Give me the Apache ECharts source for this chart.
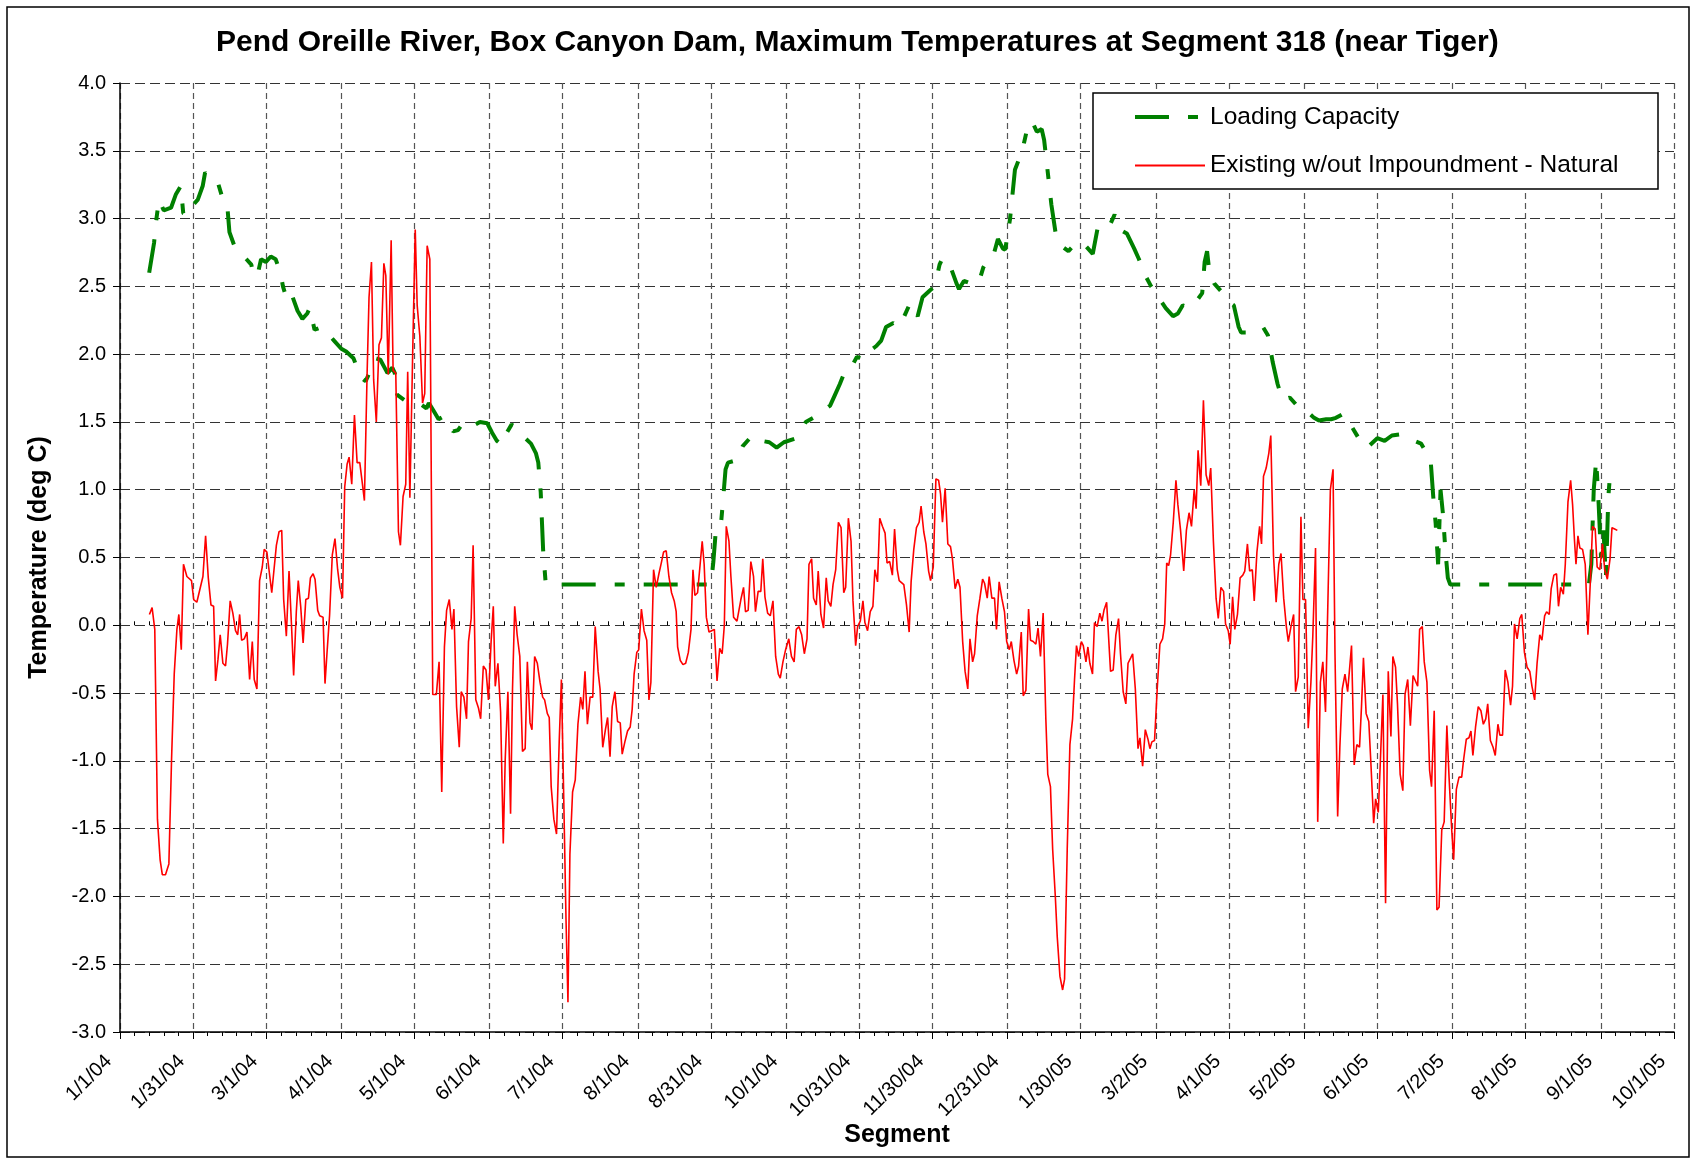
<!DOCTYPE html>
<html>
<head>
<meta charset="utf-8">
<script src="https://cdn.jsdelivr.net/npm/echarts@6/dist/echarts.min.js"></script>
<style>
  html, body { margin: 0; padding: 0; background: #fff; }
  #chart { width: 1696px; height: 1162px; }
</style>
</head>
<body>
<div id="chart"></div>
<script>
// x values are days counted from 1/1/04
const TICK_DAYS = [0, 30, 60, 91, 121, 152, 182, 213, 243, 274, 304, 334, 365, 395, 426, 456, 487, 517, 548, 578, 609, 639];
const TICK_LABELS = ["1/1/04", "1/31/04", "3/1/04", "4/1/04", "5/1/04", "6/1/04", "7/1/04", "8/1/04", "8/31/04", "10/1/04",
  "10/31/04", "11/30/04", "12/31/04", "1/30/05", "3/2/05", "4/1/05", "5/2/05", "6/1/05", "7/2/05", "8/1/05", "9/1/05", "10/1/05"];

const LOADING_CAPACITY = [
  [12,2.6],[14,2.82],[15,3.0],[16,3.14],[18,3.06],[21,3.08],[23,3.18],[25,3.24],[26,3.04],[28,3.02],[30,3.1],[32,3.14],[34,3.24],[35,3.34],
  [37,3.3],[40,3.28],[42,3.16],[44,3.12],[45,2.9],[47,2.8],[49,2.76],[52,2.7],[54,2.66],[55,2.57],[57,2.62],[58,2.7],[60,2.68],[62,2.72],
  [64,2.7],[66,2.6],[67,2.5],[69,2.38],[71,2.42],[73,2.32],[75,2.26],[77,2.3],[78,2.34],[80,2.18],[83,2.2],[86,2.14],[88,2.1],[91,2.04],
  [93,2.02],[96,1.97],[99,1.83],[101,1.8],[102,1.84],[105,1.97],[107,1.96],[110,1.86],[112,1.9],[113,1.86],[114,1.7],[117,1.66],[120,1.65],
  [123,1.64],[126,1.6],[127,1.64],[129,1.58],[131,1.52],[133,1.54],[135,1.48],[137,1.43],[139,1.44],[141,1.49],[144,1.46],[148,1.5],[151,1.49],
  [153,1.42],[155,1.36],[157,1.33],[159,1.42],[161,1.48],[163,1.46],[166,1.39],[169,1.34],[171,1.27],[172,1.2],[173,0.98],[174,0.55],[175,0.32],
  [176,0.3],[243,0.3],[244,0.47],[245,0.7],[247,0.72],[248,0.93],[249,1.15],[250,1.2],[254,1.22],[256,1.32],[259,1.38],[261,1.34],[264,1.36],
  [267,1.35],[270,1.31],[273,1.35],[278,1.38],[280,1.44],[282,1.5],[285,1.53],[289,1.58],[292,1.62],[294,1.7],[296,1.78],[298,1.87],[300,1.88],
  [303,1.98],[306,1.96],[308,2.02],[311,2.06],[313,2.1],[315,2.2],[318,2.23],[320,2.2],[322,2.26],[325,2.38],[328,2.28],[330,2.42],[333,2.47],
  [335,2.5],[337,2.66],[338,2.7],[340,2.62],[342,2.62],[344,2.52],[345,2.48],[347,2.54],[350,2.52],[353,2.52],[355,2.64],[357,2.7],[359,2.72],
  [361,2.85],[363,2.78],[364,2.77],[366,3.0],[367,3.18],[368,3.36],[371,3.5],[373,3.66],[375,3.72],[377,3.64],[379,3.66],[380,3.58],[381,3.42],
  [383,3.1],[385,2.86],[387,2.8],[390,2.76],[393,2.82],[396,2.82],[400,2.74],[402,2.93],[405,2.97],[407,2.95],[409,3.03],[411,2.92],[414,2.89],
  [417,2.78],[419,2.7],[421,2.6],[424,2.5],[427,2.42],[430,2.34],[433,2.28],[435,2.3],[437,2.36],[440,2.34],[443,2.4],[445,2.45],[446,2.68],
  [447,2.76],[448,2.6],[450,2.52],[453,2.46],[455,2.4],[458,2.36],[460,2.2],[461,2.16],[464,2.16],[467,2.18],[470,2.2],[472,2.14],[474,1.94],
  [476,1.78],[478,1.66],[481,1.68],[485,1.6],[488,1.58],[491,1.53],[493,1.51],[496,1.52],[498,1.52],[500,1.53],[503,1.56],[505,1.52],[507,1.45],
  [510,1.36],[512,1.31],[514,1.33],[517,1.38],[520,1.36],[523,1.4],[527,1.41],[531,1.37],[535,1.34],[537,1.28],[538,1.22],[539,1.2],[540,0.95],
  [541,0.75],[542,0.45],[543,1.0],[544,0.82],[545,0.55],[546,0.35],[547,0.3],[604,0.3],[605,0.45],[606,1.0],[607,1.22],[608,0.9],[609,0.5],
  [610,0.7],[611,0.35],[612,0.95],[613,1.18]
];

const EXISTING_NATURAL = [
  [12.1,0.08],[13.2,0.13],[14.3,-0.03],[15.4,-1.43],[16.5,-1.73],[17.4,-1.84],[18.7,-1.84],[20.1,-1.76],[21.2,-0.99],[22.3,-0.36],[23.4,-0.03],
  [24.2,0.08],[25.2,-0.18],[26.1,0.45],[27.5,0.36],[29.4,0.33],[30.3,0.19],[31.6,0.17],[32.4,0.18],[34.1,0.36],[35.2,0.66],[36.3,0.35],[37.4,0.15],
  [38.5,0.14],[39.3,-0.41],[40.3,-0.25],[41.2,-0.07],[42.3,-0.28],[43.4,-0.3],[44.2,-0.14],[45.3,0.18],[46.4,0.09],[47.5,-0.04],[48.4,-0.07],
  [49.2,0.08],[50.0,-0.11],[51.1,-0.1],[52.2,-0.05],[53.3,-0.4],[54.4,-0.12],[55.2,-0.4],[56.3,-0.47],[57.4,0.33],[58.5,0.43],[59.3,0.56],
  [60.4,0.54],[62.4,0.24],[64.3,0.59],[65.4,0.69],[66.5,0.7],[67.3,0.19],[68.4,-0.08],[69.5,0.4],[70.5,0.01],[71.4,-0.37],[72.5,0.1],[73.3,0.33],
  [74.3,0.14],[75.3,-0.13],[76.4,0.19],[77.5,0.2],[78.3,0.35],[79.4,0.38],[80.2,0.34],[81.3,0.11],[82.1,0.07],[83.5,0.06],[84.3,-0.43],[85.1,-0.21],
  [86.2,0.08],[87.3,0.52],[88.4,0.64],[89.5,0.41],[90.4,0.28],[91.5,0.2],[92.4,1.02],[93.4,1.19],[94.2,1.24],[95.3,1.04],[96.4,1.55],[97.5,1.2],
  [98.6,1.2],[99.7,1.04],[100.5,0.92],[101.6,1.85],[102.4,2.42],[103.4,2.68],[104.3,1.81],[105.4,1.5],[106.5,2.07],[107.5,2.12],[108.5,2.67],
  [109.3,2.58],[110.3,1.85],[111.5,2.84],[112.3,1.88],[113.4,1.86],[114.5,0.69],[115.3,0.59],[116.4,0.95],[117.5,1.04],[118.3,1.87],[119.2,0.94],
  [120.3,1.96],[121.4,2.92],[122.2,2.36],[123.3,2.13],[124.4,1.64],[125.3,1.71],[126.3,2.8],[127.4,2.7],[128.6,-0.51],[130.1,-0.51],[131.2,-0.27],
  [132.3,-1.23],[133.4,-0.16],[134.3,0.11],[135.4,0.19],[136.5,-0.03],[137.3,0.12],[138.4,-0.6],[139.5,-0.9],[140.3,-0.49],[141.4,-0.53],
  [142.5,-0.69],[143.3,-0.12],[144.4,0.05],[145.2,0.59],[146.3,-0.55],[147.4,-0.61],[148.3,-0.69],[149.4,-0.3],[150.5,-0.33],[151.5,-0.55],
  [152.6,-0.12],[153.5,0.14],[154.3,-0.45],[155.4,-0.28],[156.5,-0.64],[157.6,-1.61],[158.4,-0.99],[159.5,-0.49],[160.6,-1.39],[161.4,-0.47],
  [162.3,0.14],[163.3,-0.07],[164.4,-0.23],[165.5,-0.93],[166.6,-0.91],[167.5,-0.27],[168.6,-0.72],[169.4,-0.77],[170.5,-0.23],[171.6,-0.28],
  [172.7,-0.42],[173.8,-0.53],[174.6,-0.55],[175.7,-0.65],[176.5,-0.68],[177.3,-1.19],[178.4,-1.43],[179.5,-1.54],[180.6,-0.86],[181.5,-0.4],
  [182.3,-1.12],[183.4,-2.17],[184.2,-2.78],[185.0,-1.69],[186.1,-1.23],[187.2,-1.14],[188.3,-0.73],[189.4,-0.53],[190.3,-0.62],[191.2,-0.34],
  [192.2,-0.73],[193.3,-0.53],[194.4,-0.53],[195.4,-0.01],[196.6,-0.34],[197.4,-0.47],[198.5,-0.9],[199.6,-0.77],[200.5,-0.68],[201.5,-0.97],
  [202.4,-0.6],[203.5,-0.49],[204.6,-0.71],[205.7,-0.72],[206.5,-0.95],[207.6,-0.86],[208.7,-0.78],[209.8,-0.75],[210.6,-0.62],[211.4,-0.36],
  [212.5,-0.2],[213.3,-0.18],[214.4,0.12],[215.5,-0.04],[216.6,-0.11],[217.5,-0.55],[218.3,-0.42],[219.4,0.41],[220.5,0.28],[221.6,0.38],
  [222.7,0.47],[223.5,0.54],[224.6,0.55],[225.7,0.36],[226.8,0.24],[227.9,0.18],[228.7,0.1],[229.3,-0.16],[230.4,-0.26],[231.5,-0.29],
  [232.6,-0.28],[233.7,-0.2],[234.8,-0.03],[235.6,0.41],[236.4,0.22],[237.5,0.24],[238.3,0.25],[239.4,0.62],[240.2,0.45],[241.1,0.06],
  [242.2,-0.05],[243.3,-0.04],[244.4,-0.03],[245.5,-0.41],[246.6,-0.17],[247.6,-0.21],[248.5,0.0],[249.3,0.73],[250.4,0.62],[251.2,0.36],
  [252.3,0.06],[253.7,0.03],[254.8,0.14],[255.3,0.19],[256.4,0.28],[257.2,0.1],[258.3,0.11],[259.4,0.47],[260.5,0.36],[261.3,0.1],[262.4,0.25],
  [263.5,0.25],[264.3,0.49],[265.2,0.21],[266.3,0.09],[267.4,0.07],[268.5,0.18],[269.6,-0.23],[270.7,-0.36],[271.5,-0.39],[272.6,-0.27],
  [273.7,-0.18],[275.0,-0.1],[276.1,-0.23],[277.2,-0.27],[278.1,-0.03],[279.2,-0.01],[280.3,-0.07],[281.4,-0.21],[282.5,-0.1],[283.3,0.45],
  [284.4,0.49],[285.2,0.2],[286.3,0.15],[287.1,0.4],[288.2,0.08],[289.3,-0.02],[290.4,0.35],[291.2,0.18],[292.3,0.14],[293.2,0.3],[294.3,0.41],
  [295.4,0.76],[296.5,0.72],[297.6,0.24],[298.4,0.28],[299.5,0.79],[300.6,0.62],[301.4,0.18],[302.5,-0.15],[303.3,-0.01],[304.4,0.03],[305.5,0.18],
  [306.3,0.02],[307.4,-0.04],[308.5,0.1],[309.6,0.14],[310.4,0.41],[311.5,0.32],[312.4,0.79],[313.5,0.73],[314.6,0.68],[315.4,0.46],[316.5,0.47],
  [317.6,0.37],[318.5,0.71],[319.6,0.41],[320.4,0.33],[322.3,0.3],[323.4,0.15],[324.5,-0.05],[325.3,0.32],[326.4,0.56],[327.5,0.72],[328.6,0.76],
  [329.4,0.88],[330.5,0.69],[331.4,0.6],[332.5,0.4],[333.3,0.33],[334.4,0.43],[335.5,1.08],[336.6,1.07],[337.4,0.97],[338.2,0.76],[339.3,1.01],
  [340.4,0.6],[341.5,0.58],[342.3,0.49],[343.4,0.27],[344.5,0.34],[345.4,0.28],[346.5,-0.12],[347.5,-0.34],[348.6,-0.47],[349.5,-0.1],[350.6,-0.27],
  [351.4,-0.21],[352.5,0.07],[353.6,0.2],[354.7,0.34],[355.5,0.31],[356.6,0.2],[357.4,0.36],[358.5,0.2],[359.6,0.2],[360.4,-0.03],[361.5,0.32],
  [362.6,0.2],[363.7,0.1],[364.6,-0.12],[365.7,-0.18],[366.5,-0.12],[367.6,-0.26],[368.7,-0.36],[369.5,-0.3],[370.6,-0.05],[371.4,-0.52],
  [372.5,-0.48],[373.6,0.12],[374.4,-0.11],[375.5,-0.12],[376.6,-0.14],[377.5,-0.02],[378.5,-0.23],[379.6,0.09],[380.7,-0.69],[381.5,-1.1],
  [382.6,-1.19],[383.5,-1.65],[384.6,-2.0],[385.4,-2.3],[386.5,-2.59],[387.6,-2.69],[388.4,-2.61],[389.5,-1.65],[390.6,-0.88],[391.7,-0.69],
  [392.5,-0.4],[393.3,-0.15],[394.2,-0.23],[395.3,-0.12],[396.1,-0.15],[397.2,-0.27],[398.0,-0.16],[398.8,-0.28],[399.9,-0.36],[400.7,0.02],
  [401.8,-0.01],[402.9,0.09],[403.8,0.03],[404.6,0.11],[405.7,0.17],[406.5,0.18],[407.3,-0.34],[408.4,-0.33],[409.5,-0.07],[410.6,0.05],
  [411.4,-0.21],[412.5,-0.49],[413.6,-0.58],[414.5,-0.28],[415.6,-0.24],[416.4,-0.21],[417.5,-0.47],[418.6,-0.91],[419.4,-0.83],[420.5,-1.04],
  [421.6,-0.77],[422.7,-0.84],[423.5,-0.91],[424.3,-0.86],[425.4,-0.85],[426.5,-0.47],[427.6,-0.14],[428.7,-0.1],[429.6,0.01],[430.4,0.46],
  [431.2,0.44],[432.0,0.52],[433.1,0.76],[434.2,1.07],[435.0,0.89],[436.1,0.7],[437.4,0.4],[438.5,0.7],[439.6,0.83],[440.6,0.73],[441.7,1.0],
  [442.5,0.86],[443.3,1.29],[444.4,1.03],[445.5,1.66],[446.6,1.11],[447.7,1.03],[448.5,1.16],[449.6,0.62],[450.7,0.2],[451.6,0.05],[452.7,0.28],
  [453.8,0.25],[454.6,0.01],[455.7,-0.04],[456.5,-0.14],[457.5,0.21],[458.4,-0.03],[459.5,0.08],[460.6,0.35],[461.7,0.37],[462.5,0.4],[463.6,0.6],
  [464.5,0.4],[465.6,0.41],[466.4,0.18],[467.5,0.54],[468.6,0.73],[469.4,0.6],[470.2,1.1],[471.3,1.16],[472.4,1.27],[473.2,1.4],[474.3,0.52],
  [475.4,0.17],[476.5,0.45],[477.4,0.53],[478.5,0.2],[479.6,-0.01],[480.4,-0.12],[481.5,-0.01],[482.6,0.08],[483.4,-0.49],[484.5,-0.38],
  [485.6,0.8],[486.4,0.19],[487.5,0.19],[488.6,-0.76],[489.7,-0.42],[490.5,-0.07],[491.6,0.57],[492.5,-1.45],[493.6,-0.42],[494.6,-0.27],
  [495.7,-0.64],[496.8,0.27],[497.7,1.0],[498.8,1.15],[499.6,-0.21],[500.7,-1.41],[501.6,-0.9],[502.6,-0.47],[503.7,-0.36],[504.8,-0.49],
  [505.6,-0.49],[506.4,-0.15],[507.5,-1.03],[508.6,-0.88],[509.7,-0.9],[510.5,-0.6],[511.3,-0.24],[512.4,-0.65],[513.5,-0.71],[514.4,-1.03],
  [515.5,-1.46],[516.3,-1.28],[517.4,-1.38],[518.2,-1.03],[519.3,-0.51],[520.4,-2.05],[521.5,-0.34],[522.6,-0.82],[523.4,-0.23],[524.5,-0.31],
  [525.3,-0.58],[526.4,-1.1],[527.5,-1.22],[528.4,-0.51],[529.5,-0.4],[530.6,-0.74],[531.7,-0.37],[532.5,-0.38],[533.6,-0.45],[534.4,-0.03],
  [535.5,-0.01],[536.3,-0.27],[537.4,-0.42],[538.5,-1.07],[539.3,-1.19],[540.4,-0.63],[541.5,-2.1],[542.4,-2.08],[543.5,-1.51],[544.5,-1.45],
  [545.6,-0.74],[546.5,-1.12],[547.6,-1.51],[548.4,-1.73],[549.5,-1.21],[550.6,-1.12],[551.7,-1.12],[552.5,-0.99],[553.6,-0.84],[554.7,-0.83],
  [555.5,-0.78],[556.3,-0.96],[557.4,-0.75],[558.5,-0.6],[559.6,-0.63],[560.6,-0.73],[561.6,-0.69],[562.4,-0.58],[563.5,-0.85],[564.6,-0.9],
  [565.5,-0.96],[566.6,-0.73],[567.4,-0.81],[568.5,-0.81],[569.6,-0.33],[570.7,-0.42],[571.8,-0.59],[572.6,-0.45],[573.4,0.01],[574.5,-0.1],
  [575.6,0.05],[576.4,0.08],[577.5,-0.2],[578.6,-0.31],[579.7,-0.34],[580.6,-0.45],[581.7,-0.55],[582.7,-0.28],[583.8,-0.07],[584.7,-0.11],
  [585.8,0.07],[586.6,0.1],[587.7,0.08],[588.5,0.27],[589.6,0.37],[590.7,0.38],[591.5,0.14],[592.4,0.28],[593.5,0.23],[594.3,0.45],[595.4,0.91],
  [596.5,1.07],[597.3,0.89],[598.1,0.62],[598.7,0.45],[599.5,0.66],[600.3,0.57],[601.4,0.56],[602.5,0.45],[603.6,-0.07],[604.7,0.36],[605.5,0.73],
  [606.6,0.71],[607.4,0.43],[608.5,0.41],[609.6,0.6],[610.5,0.41],[611.6,0.34],[612.7,0.49],[613.5,0.72],[614.6,0.71],[615.7,0.7]
];

const FONT = "'Liberation Sans', Arial, sans-serif";
const GREEN_DASH = [34, 19, 10, 19];

// minor ticks: 4 between each pair of major ticks (Excel default minor unit = major / 5)
const MINOR_DAYS = [];
for (let i = 0; i < TICK_DAYS.length - 1; i++) {
  const a = TICK_DAYS[i], b = TICK_DAYS[i + 1];
  for (let k = 1; k < 5; k++) MINOR_DAYS.push(a + (b - a) * k / 5);
}
const minorAxis = (inside) => ({
  type: "value", min: 0, max: 639, position: "bottom",
  axisLine: { show: false }, axisLabel: { show: false }, splitLine: { show: false },
  axisTick: { show: true, inside, customValues: MINOR_DAYS, length: 4, lineStyle: { color: "#000" } },
});

const chart = echarts.init(document.getElementById("chart"), null, { renderer: "canvas" });
chart.setOption({
  animation: false,
  backgroundColor: "#fff",
  title: {
    text: "Pend Oreille River, Box Canyon Dam, Maximum Temperatures at Segment 318 (near Tiger)",
    left: 216, top: 28, padding: 0,
    textStyle: { fontFamily: FONT, fontSize: 30, fontWeight: "bold", color: "#000" },
  },
  grid: { left: 120, top: 83, width: 1554, height: 949, containLabel: false, outerBoundsMode: "none" },
  legend: {
    orient: "vertical", left: 1133, top: 102.5, padding: 0, itemWidth: 70, itemHeight: 14, itemGap: 19.5, z: 20,
    itemStyle: { opacity: 0 },
    textStyle: { fontFamily: FONT, fontSize: 24.5, color: "#000", lineHeight: 29 },
    data: [
      { name: "Loading Capacity", lineStyle: { width: 4, color: "#008000", type: GREEN_DASH } },
      { name: "Existing w/out Impoundment - Natural", lineStyle: { width: 2, color: "#ff0000" } },
    ],
  },
  xAxis: [
    {
      type: "value", min: 0, max: 639, position: "bottom",
      name: "Segment", nameLocation: "middle", nameGap: 91, nameMoveOverlap: false,
      nameTextStyle: { fontFamily: FONT, fontSize: 25, fontWeight: "bold", color: "#000" },
      axisLine: { onZero: false, lineStyle: { color: "#000", width: 1.5 } },
      axisTick: { customValues: TICK_DAYS, length: 7, lineStyle: { color: "#000" } },
      axisLabel: {
        customValues: TICK_DAYS, rotate: 45, margin: 15, padding: [0, 16, 0, 0], showMinLabel: true, showMaxLabel: true,
        fontFamily: FONT, fontSize: 20, color: "#000",
        formatter: (v) => TICK_LABELS[TICK_DAYS.indexOf(Math.round(v))] || "",
      },
      splitLine: { show: true, lineStyle: { color: "#555", width: 1.2, type: [6, 4] } },
    },
    minorAxis(true),
    minorAxis(false),
  ],
  yAxis: {
    type: "value", min: -3, max: 4, interval: 0.5,
    name: "Temperature (deg C)", nameLocation: "middle", nameGap: 68,
    nameTextStyle: { fontFamily: FONT, fontSize: 25, fontWeight: "bold", color: "#000" },
    axisLine: { show: true, onZero: false, lineStyle: { color: "#000", width: 1.5 } },
    axisTick: { show: true, length: 7, lineStyle: { color: "#000" } },
    axisLabel: { margin: 14, fontFamily: FONT, fontSize: 20, color: "#000", formatter: (v) => v.toFixed(1) },
    splitLine: { show: true, lineStyle: { color: "#333", width: 1, type: [10, 5] } },
  },
  graphic: [
    { type: "rect", z: 10, shape: { x: 7, y: 7, width: 1682, height: 1150 }, style: { fill: "none", stroke: "#000", lineWidth: 1.5 } },
    { type: "rect", z: 10, shape: { x: 1093, y: 93, width: 565, height: 96 }, style: { fill: "#fff", stroke: "#000", lineWidth: 1.5 } },
  ],
  series: [
    {
      name: "Loading Capacity", type: "line", data: LOADING_CAPACITY, symbol: "none", z: 3,
      lineStyle: { color: "#008000", width: 4, type: GREEN_DASH }, itemStyle: { color: "#008000" },
    },
    {
      name: "Existing w/out Impoundment - Natural", type: "line", data: EXISTING_NATURAL, symbol: "none", z: 4,
      lineStyle: { color: "#ff0000", width: 1.6 }, itemStyle: { color: "#ff0000" },
    },
  ],
});
</script>
</body>
</html>
